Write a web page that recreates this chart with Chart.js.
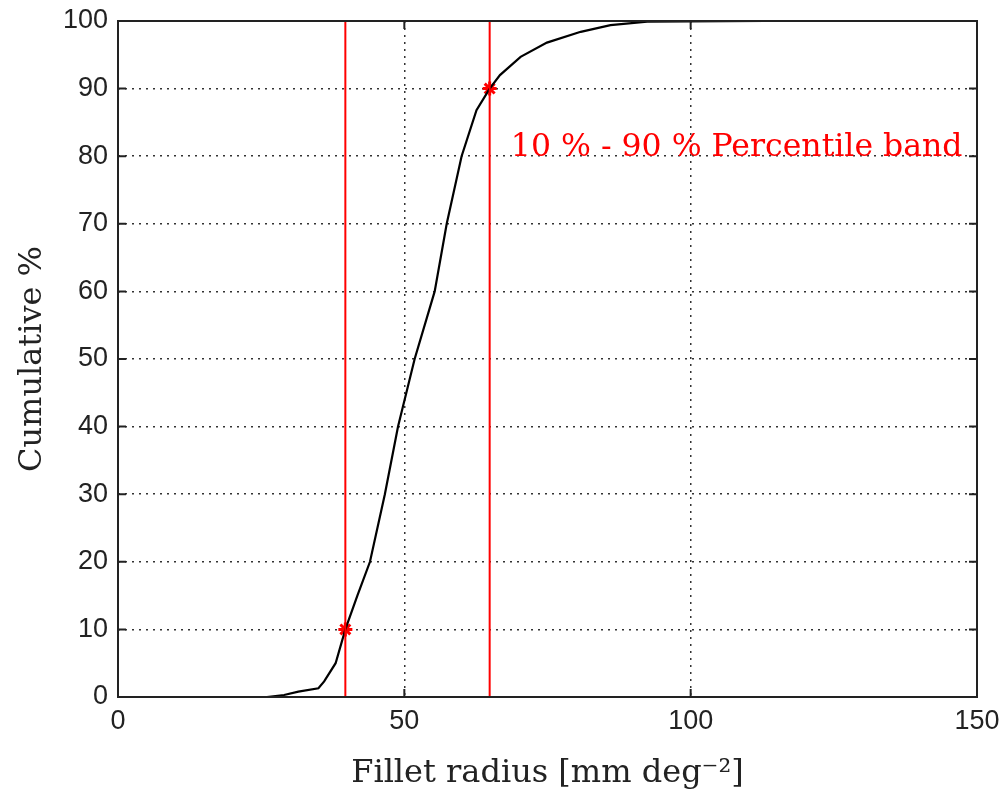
<!DOCTYPE html>
<html>
<head>
<meta charset="utf-8">
<script src="https://cdn.jsdelivr.net/npm/chart.js@4/dist/chart.umd.min.js"></script>
<style>
  html, body { margin: 0; padding: 0; background: #fff; }
  #wrap { width: 1005px; height: 793px; }
</style>
</head>
<body>
<div id="wrap"><canvas id="cdf"></canvas></div>
<script>
// cumulative distribution
const radius = [26, 29, 31.5, 35, 36, 38, 39.7, 41.8, 44, 46.6, 48.9, 51.8, 55.3, 57.4, 60, 62.6, 64.9, 66.7, 70.3, 74.9, 80.8, 86, 92.4, 113];
const cumulative = [0, 0.3, 0.8, 1.3, 2.3, 5, 10, 15, 20, 30, 40, 50, 60, 70, 80, 86.8, 90, 92, 94.7, 96.8, 98.4, 99.4, 99.9, 100];

// percentile band
const bandRadius = [39.7, 64.9];
const bandPercent = [10, 90];
const bandLabel = "10 % - 90 % Percentile band";

const xTicks = [0, 50, 100, 150];
const yTicks = [0, 10, 20, 30, 40, 50, 60, 70, 80, 90, 100];

const ink = "#222";
const red = "#ff0000";
const serif = "'DejaVu Serif', 'Liberation Serif', serif";
const sans = "'Liberation Sans', Arial, sans-serif";

// frame + inward tick marks like matlab, and the band text
const framePlugin = {
  id: "frame",
  afterDatasetsDraw(chart) {
    const ctx = chart.ctx;
    const a = chart.chartArea;
    const xs = chart.scales.x, ys = chart.scales.y;
    ctx.save();
    ctx.strokeStyle = ink;
    ctx.lineWidth = 2;
    ctx.strokeRect(a.left, a.top, a.right - a.left, a.bottom - a.top);
    ctx.beginPath();
    xTicks.forEach((v) => {
      const px = xs.getPixelForValue(v);
      ctx.moveTo(px, a.bottom); ctx.lineTo(px, a.bottom - 8);
      ctx.moveTo(px, a.top); ctx.lineTo(px, a.top + 8);
    });
    yTicks.forEach((v) => {
      const py = ys.getPixelForValue(v);
      ctx.moveTo(a.left, py); ctx.lineTo(a.left + 8, py);
      ctx.moveTo(a.right, py); ctx.lineTo(a.right - 8, py);
    });
    ctx.stroke();

    ctx.fillStyle = red;
    ctx.font = "31.5px " + serif;
    ctx.textAlign = "left";
    ctx.textBaseline = "middle";
    ctx.fillText(bandLabel, xs.getPixelForValue(68.6), ys.getPixelForValue(81.3));
    ctx.restore();
  },
};

const gridStyle = {
  color: "#333",
  lineWidth: 1.5,
  drawTicks: false,
};

new Chart(document.getElementById("cdf"), {
  type: "line",
  data: {
    datasets: [
      {
        label: "p10",
        data: [{ x: bandRadius[0], y: 0 }, { x: bandRadius[0], y: 100 }],
        borderColor: red,
        borderWidth: 2,
        pointRadius: 0,
      },
      {
        label: "p90",
        data: [{ x: bandRadius[1], y: 0 }, { x: bandRadius[1], y: 100 }],
        borderColor: red,
        borderWidth: 2,
        pointRadius: 0,
      },
      {
        label: "cdf",
        data: radius.map((r, i) => ({ x: r, y: cumulative[i] })),
        borderColor: "#000",
        borderWidth: 2.2,
        pointRadius: 0,
        tension: 0,
      },
      {
        label: "markers",
        data: bandRadius.map((r, i) => ({ x: r, y: bandPercent[i] })),
        showLine: false,
        pointStyle: "star",
        pointRadius: 7,
        borderColor: red,
        borderWidth: 3,
        backgroundColor: red,
      },
    ],
  },
  options: {
    responsive: true,
    maintainAspectRatio: false,
    animation: false,
    layout: { padding: { top: 21, right: 28, left: 0, bottom: 0 } },
    plugins: {
      legend: { display: false },
      tooltip: { enabled: false },
    },
    scales: {
      x: {
        type: "linear",
        min: 0,
        max: 150,
        afterFit: (s) => { s.height = 96; s.paddingLeft = 0; s.paddingRight = 0; },
        afterBuildTicks: (s) => { s.ticks = xTicks.map((v) => ({ value: v })); },
        grid: { ...gridStyle },
        border: { display: false, dash: [2, 5] },
        ticks: {
          color: ink,
          padding: 8,
          maxRotation: 0,
          font: { family: sans, size: 27 },
        },
        title: {
          display: true,
          text: "Fillet radius [mm deg⁻²]",
          color: ink,
          padding: { top: 6, bottom: 0 },
          font: { family: serif, size: 32 },
        },
      },
      y: {
        min: 0,
        max: 100,
        afterFit: (s) => { s.width = 118; s.paddingTop = 0; s.paddingBottom = 0; },
        afterBuildTicks: (s) => { s.ticks = yTicks.map((v) => ({ value: v })); },
        grid: { ...gridStyle },
        border: { display: false, dash: [2, 5] },
        ticks: {
          color: ink,
          padding: 10,
          font: { family: sans, size: 27 },
        },
        title: {
          display: true,
          text: "Cumulative %",
          color: ink,
          padding: { top: 13, bottom: 0 },
          font: { family: serif, size: 32 },
        },
      },
    },
  },
  plugins: [framePlugin],
});
</script>
</body>
</html>
